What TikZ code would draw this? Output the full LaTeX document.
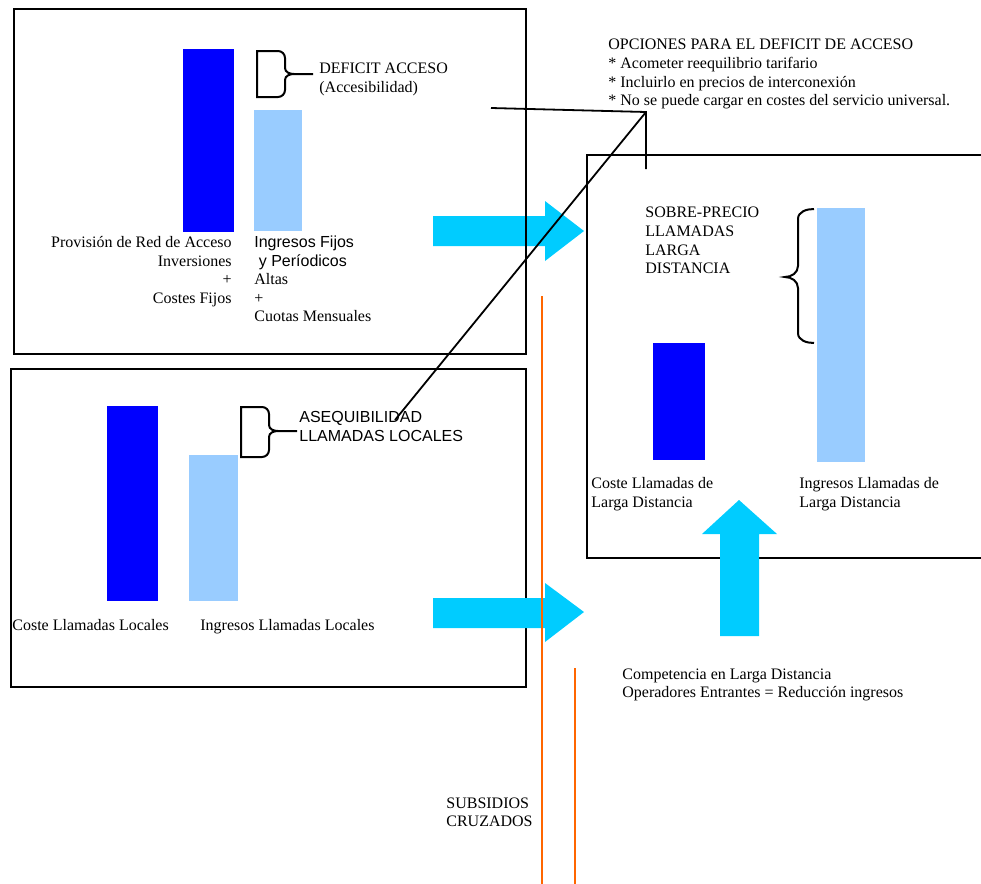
\documentclass[tikz,border=0pt]{standalone}
\usepackage{fontspec}
\setmainfont{Liberation Serif}
\setsansfont{Liberation Sans}
\definecolor{barDark}{RGB}{0,0,255}
\definecolor{barLight}{RGB}{153,204,255}
\definecolor{flecha}{RGB}{0,204,255}
\definecolor{naranja}{RGB}{255,102,0}
\begin{document}
\begin{tikzpicture}[x=0.5pt, y=-0.5pt, font=\fontsize{8}{9.3}\selectfont,
  txt/.style={inner sep=0pt, anchor=north west, align=left},
  etiqSans/.style={font=\fontsize{8}{9.3}\selectfont\sffamily},
  caja/.style={line width=1pt},
  llave/.style={line width=1pt},
  enlace/.style={line width=0.9pt}]
\useasboundingbox (0,0) rectangle (981,884);
% flecha hacia la caja de larga distancia (bajo el borde)
\fill[flecha] (433,216) -- (545,216) -- (545,201) -- (584,231) -- (545,261) -- (545,246) -- (433,246) -- cycle;
% cajas
\draw[caja] (14,9) rectangle (526,354);
\draw[caja] (11,369) rectangle (526,687);
\draw[caja] (990,155) -- (587,155) -- (587,558) -- (990,558);
% barras
\fill[barDark] (183,49) rectangle (234,232);
\fill[barLight] (254,110) rectangle (302,231);
\fill[barDark] (107,406) rectangle (158,601);
\fill[barLight] (189,455) rectangle (238,601);
\fill[barDark] (653,343) rectangle (705,460);
\fill[barLight] (817,208) rectangle (865,462);
% llaves
\draw[llave] (313,74) -- (294,74) to[out=180,in=-90] (285,68) -- (285,58) to[out=90,in=0] (278,51) -- (257,51) -- (257,97) -- (278,97) to[out=0,in=-90] (285,90) -- (285,80) to[out=90,in=180] (294,74);
\draw[llave] (297,431) -- (278,431) to[out=180,in=-90] (269,425) -- (269,414) to[out=90,in=0] (262,407) -- (241,407) -- (241,457) -- (262,457) to[out=0,in=-90] (269,450) -- (269,437) to[out=90,in=180] (278,431);
\draw[llave] (814,209) to[out=180,in=90] (798,219) -- (798,266) to[out=-90,in=0] (785,277) to[out=0,in=90] (798,288) -- (798,333) to[out=-90,in=180] (814,343);
% textos
\node[txt] (opciones) at (608,39) {OPCIONES PARA EL DEFICIT DE ACCESO\\* Acometer reequilibrio tarifario\\* Incluirlo en precios de interconexión\\* No se puede cargar en costes del servicio universal.};
\node[txt] (deficit) at (319,63) {DEFICIT ACCESO\\(Accesibilidad)};
\node[txt, anchor=north east, align=right] (provision) at (232,236) {Provisión de Red de Acceso\\Inversiones\\+\\Costes Fijos};
\node[txt, etiqSans] (ingFijos) at (254,236) {Ingresos Fijos\\\ y Períodicos};
\node[txt] (altas) at (254,273) {Altas\\+\\Cuotas Mensuales};
\node[txt] (sobre) at (645,207) {SOBRE-PRECIO\\LLAMADAS\\LARGA\\DISTANCIA};
\node[txt] (costeLD) at (591,477) {Coste Llamadas de\\Larga Distancia};
\node[txt] (ingLD) at (799,477) {Ingresos Llamadas de\\Larga Distancia};
\node[txt, etiqSans] (aseq) at (299,411) {ASEQUIBILIDAD\\LLAMADAS LOCALES};
\node[txt] (costeLoc) at (12,619) {Coste Llamadas Locales};
\node[txt] (ingLoc) at (200,619) {Ingresos Llamadas Locales};
\node[txt] (compet) at (622,668) {Competencia en Larga Distancia\\Operadores Entrantes = Reducción ingresos};
\node[txt] (subsidios) at (446,797) {SUBSIDIOS\\CRUZADOS};
% flechas grandes
\fill[flecha] (433,598) -- (545,598) -- (545,583) -- (584,612) -- (545,642) -- (545,628) -- (433,628) -- cycle;
\fill[flecha] (720,636) -- (720,534) -- (702,534) -- (739,500) -- (777,534) -- (759,534) -- (759,636) -- cycle;
% lineas de las opciones
\coordinate (hub) at (646,112);
\coordinate (defEnd) at (491,108);
\coordinate (sobreEnd) at (646,169);
\coordinate (aseqEnd) at (395,420);
\draw[enlace] (defEnd) -- (hub) -- (sobreEnd);
\draw[enlace] (hub) -- (aseqEnd);
% subsidios cruzados
\coordinate (corteA) at (542,296);
\coordinate (corteB) at (575,668);
\draw[naranja, line width=0.9pt] (corteA) -- (corteA |- 0,884);
\draw[naranja, line width=0.9pt] (corteB) -- (corteB |- 0,884);
\end{tikzpicture}
\end{document}
